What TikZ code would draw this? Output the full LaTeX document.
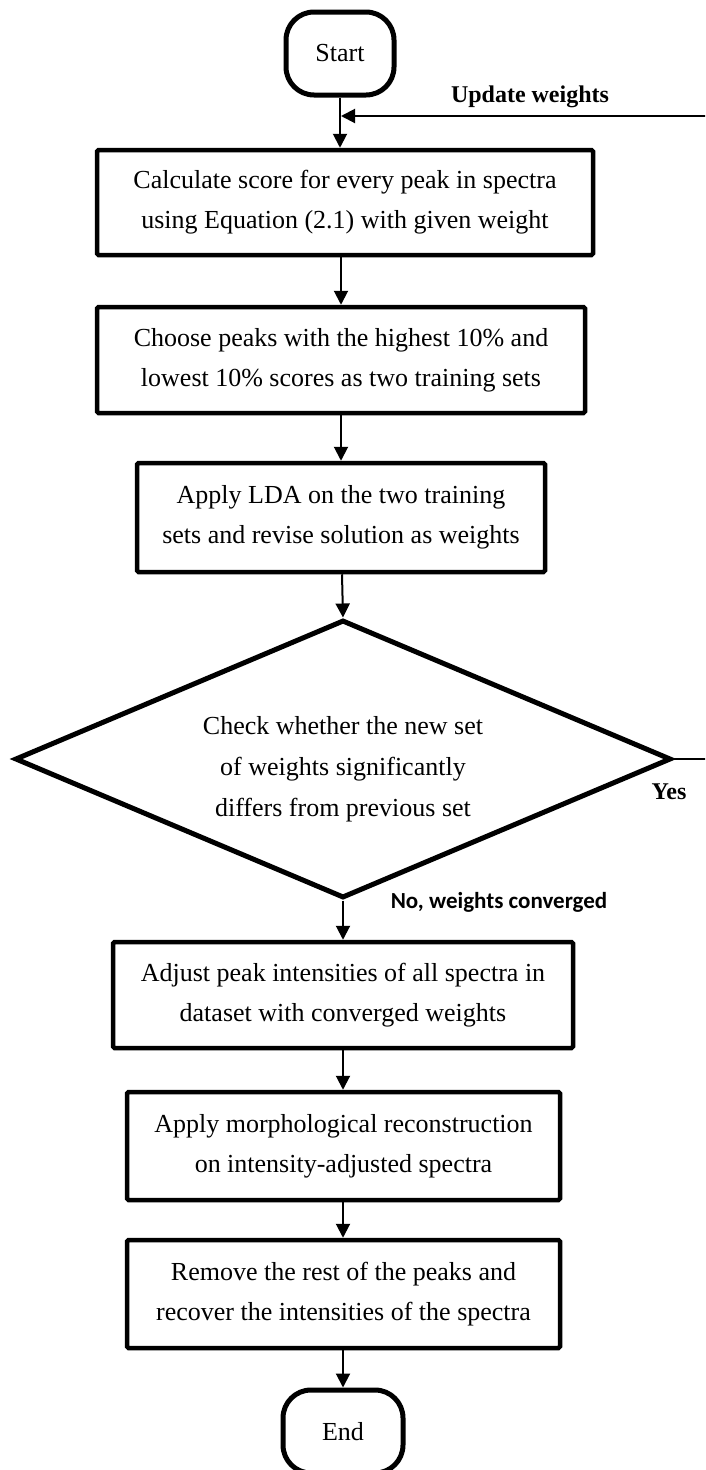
\documentclass[tikz,border=0pt]{standalone}
\usepackage{fontspec}
\setmainfont{Liberation Serif}
\newfontfamily\lserifb{Liberation Serif Bold}
\newfontfamily\calibb{Carlito Bold}
\usetikzlibrary{arrows.meta,shapes.geometric}
\begin{document}
\begin{tikzpicture}[x=1pt,y=-1pt,
  procbox/.style={draw,line width=4.5pt,rounded corners=1.5pt,inner sep=0pt,align=center,
     font=\fontsize{26}{40}\selectfont},
  termbox/.style={draw,line width=5pt,rounded corners=28pt,inner sep=0pt,align=center,
     minimum width=108pt,minimum height=83pt,font=\fontsize{26}{40}\selectfont},
  decbox/.style={draw,line width=5pt,diamond,inner sep=0pt,aspect=2.36,minimum width=656pt,minimum height=278pt,
     align=center,font=\fontsize{26}{41}\selectfont},
  conn/.style={line width=2pt,-{Triangle[length=14pt,width=14pt]}},
  lbl/.style={font=\fontsize{24}{28}\lserifb\selectfont,inner sep=0pt}
]
\clip (0,0) rectangle (705,1470);
\fill[white] (0,0) rectangle (705,1470);

\node[termbox] (start) at (340,53.5) {Start};
\node[procbox,minimum width=496pt,minimum height=105pt] (b1) at (345,202.5)
  {Calculate score for every peak in spectra\\using Equation (2.1) with given weight};
\node[procbox,minimum width=488pt,minimum height=106pt] (b2) at (341,360)
  {Choose peaks with the highest 10\% and\\lowest 10\% scores as two training sets};
\node[procbox,minimum width=408pt,minimum height=109pt] (b3) at (341,517.5)
  {Apply LDA on the two training\\sets and revise solution as weights};
\node[decbox] (d) at (343,759)
  {\rule{0pt}{38pt}Check whether the new set\\of weights significantly\\differs from previous set};
\node[procbox,minimum width=460pt,minimum height=106pt] (b4) at (343,995)
  {Adjust peak intensities of all spectra in\\dataset with converged weights};
\node[procbox,minimum width=433pt,minimum height=108pt] (b5) at (343.5,1146)
  {Apply morphological reconstruction\\on intensity-adjusted spectra};
\node[procbox,minimum width=433pt,minimum height=108pt] (b6) at (343.5,1294)
  {Remove the rest of the peaks and\\recover the intensities of the spectra};
\node[termbox,minimum width=120pt] (end) at (343,1431.5) {End};

\coordinate (j) at (340,116);
\coordinate (r1) at (720,759);
\coordinate (r2) at (720,116);

\draw[conn] (start.south -| j) -- (b1.north -| j);
\draw[conn] (b1.south -| 341,0) -- (b2.north -| 341,0);
\draw[conn] (b2.south -| 341,0) -- (b3.north -| 341,0);
\draw[conn] (b3.south -| 342,0) -- (d.north);
\draw[conn] (d.south) -- (b4.north -| d.south);
\draw[conn] (b4.south -| 343,0) -- (b5.north -| 343,0);
\draw[conn] (b5.south -| 343,0) -- (b6.north -| 343,0);
\draw[conn] (b6.south -| 343,0) -- (end.north -| 343,0);
\draw[conn] (d.east) -- (r1) -- (r2) -- ([xshift=1pt]j);

\node[lbl] (uw) at (530,97) {Update weights};
\node[lbl] (yes) at (669,792) {Yes};
\node[font=\fontsize{23}{26}\calibb\selectfont,inner sep=0pt] (no) at (499,902) {No, weights converged};
\end{tikzpicture}
\end{document}
